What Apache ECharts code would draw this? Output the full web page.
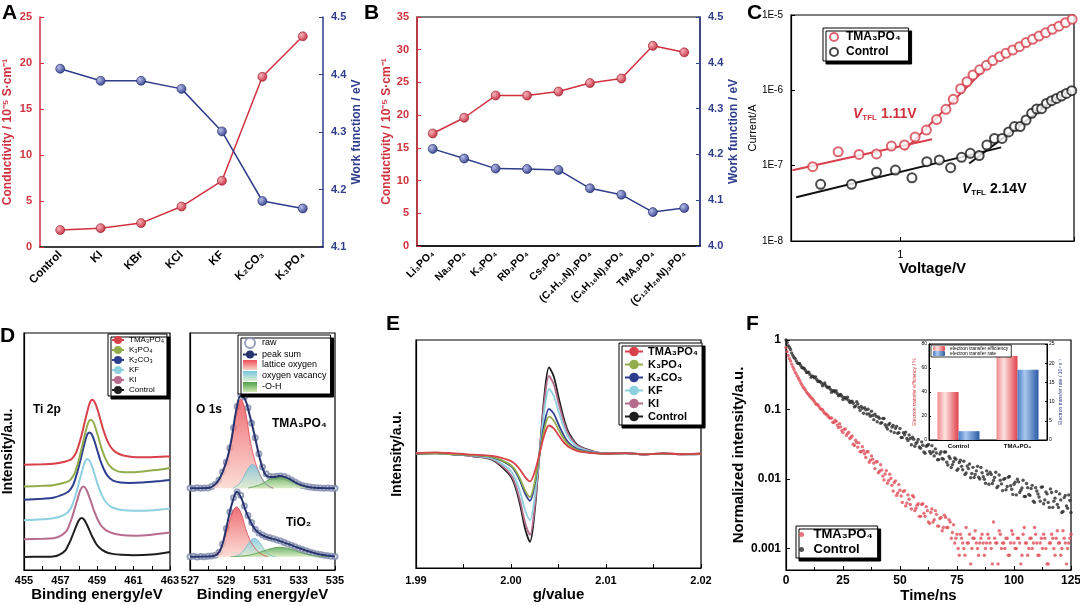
<!DOCTYPE html>
<html lang="en">
<head>
    <meta charset="UTF-8">
    <title>TiO2 additive figure</title>
    <style>
        body { margin: 0; padding: 0; background: #fff; }
        #main { width: 1080px; height: 605px; }
    </style>
</head>
<body>
<div id="main"></div>
<script src="https://cdn.jsdelivr.net/npm/echarts@6/dist/echarts.min.js"></script>
<script>
    // ---- A: conductivity / work function vs potassium salt
    var saltsA = ['Control', 'KI', 'KBr', 'KCl', 'KF', 'K2CO3', 'K3PO4'];
    var condA = [1.85, 2.05, 2.6, 4.4, 7.2, 18.5, 22.9];
    var wfA = [4.41, 4.389, 4.389, 4.375, 4.301, 4.18, 4.167];

    // ---- B: phosphate salts
    var saltsB = ['Li3PO4', 'Na3PO4', 'K3PO4', 'Rb3PO4', 'Cs3PO4', '(C4H12N)3PO4', '(C6H16N)3PO4', 'TMA3PO4', '(C12H28N)3PO4'];
    var condB = [17.2, 19.6, 23.0, 23.0, 23.6, 24.9, 25.6, 30.6, 29.6];
    var wfB = [4.212, 4.191, 4.169, 4.168, 4.166, 4.126, 4.112, 4.074, 4.083];

    // ---- C: SCLC, voltage (V) and current (A)
    var vTmaC = [0.436, 0.555, 0.676, 0.798, 0.919, 1.04, 1.15, 1.28, 1.41, 1.54, 1.65, 1.77, 1.88, 1.99, 2.12, 2.26, 2.40, 2.56, 2.72, 2.90, 3.09, 3.29, 3.50, 3.72, 3.96, 4.22, 4.49, 4.78, 5.09];
    var iTmaC = [9.7e-8, 1.53e-7, 1.41e-7, 1.43e-7, 1.82e-7, 1.88e-7, 2.4e-7, 2.97e-7, 4.1e-7, 5.6e-7, 7.6e-7, 1.05e-6, 1.3e-6, 1.6e-6, 1.87e-6, 2.15e-6, 2.48e-6, 2.8e-6, 3.1e-6, 3.43e-6, 3.8e-6, 4.3e-6, 4.75e-6, 5.26e-6, 5.8e-6, 6.45e-6, 7.1e-6, 7.9e-6, 8.75e-6];
    var vCtrlC = [0.47, 0.63, 0.798, 0.954, 1.116, 1.285, 1.447, 1.61, 1.785, 1.94, 2.11, 2.27, 2.44, 2.62, 2.79, 2.95, 3.11, 3.29, 3.47, 3.64, 3.81, 3.99, 4.19, 4.39, 4.6, 4.82, 5.07];
    var iCtrlC = [5.65e-8, 5.65e-8, 8.2e-8, 8.75e-8, 6.9e-8, 1.13e-7, 1.19e-7, 9.4e-8, 1.29e-7, 1.46e-7, 1.36e-7, 1.88e-7, 2.3e-7, 2.3e-7, 2.8e-7, 3.3e-7, 3.3e-7, 4.04e-7, 4.95e-7, 5.65e-7, 5.7e-7, 6.7e-7, 7.3e-7, 7.8e-7, 8.4e-7, 9.1e-7, 9.9e-7];
    var fitTmaLow = [[0.36, 8.7e-8], [1.35, 2.24e-7]];
    var fitTmaHigh = [[1.04, 1.61e-7], [2.29, 2.1e-6]];
    var fitCtrlLow = [[0.373, 3.8e-8], [2.6, 1.75e-7]];
    var fitCtrlHigh = [[1.92, 1.07e-7], [4.36, 7.8e-7]];

    // ---- D: XPS Ti 2p (binding energy eV, offset intensity a.u.)
    var tiCtrl = [[455, 5.5], [456, 5.6], [456.6, 5.7], [456.95, 6.5], [457.25, 8.1], [457.4, 10.1], [457.55, 12.5], [457.7, 15.4], [457.85, 18.3], [458.0, 20.9], [458.15, 21.9], [458.3, 21.2], [458.45, 19.1], [458.6, 16.5], [458.75, 13.9], [458.95, 11.1], [459.15, 9.3], [459.45, 7.7], [459.85, 6.8], [460.35, 6.4], [461, 6.2], [462, 6.5], [463, 7.6]];
    var tiKI = [[455, 13.0], [456, 13.2], [456.6, 13.4], [457.05, 14.6], [457.35, 16.7], [457.5, 19.4], [457.65, 22.6], [457.8, 26.5], [457.95, 30.4], [458.1, 33.9], [458.25, 35.2], [458.4, 34.2], [458.55, 31.4], [458.7, 28.1], [458.85, 24.7], [459.05, 21.1], [459.25, 18.5], [459.55, 16.5], [459.95, 15.3], [460.45, 14.7], [461, 14.5], [462, 14.9], [463, 15.8]];
    var tiKF = [[455, 21.0], [456, 21.4], [456.6, 21.8], [457.27, 23.6], [457.57, 26.1], [457.72, 29.1], [457.87, 32.7], [458.02, 37.1], [458.17, 41.4], [458.32, 45.3], [458.47, 46.8], [458.62, 45.7], [458.77, 42.8], [458.92, 39.1], [459.07, 35.4], [459.27, 31.5], [459.47, 28.8], [459.77, 26.6], [460.17, 25.5], [460.67, 25.1], [461.5, 25.0], [462.5, 25.5], [463, 26.0]];
    var tiK2CO3 = [[455, 29.6], [456, 30.1], [456.6, 30.5], [457.38, 32.8], [457.68, 35.7], [457.83, 38.9], [457.98, 42.9], [458.13, 47.6], [458.28, 52.3], [458.43, 56.5], [458.58, 58.0], [458.73, 57.0], [458.88, 53.9], [459.03, 50.1], [459.18, 46.3], [459.38, 42.4], [459.58, 39.7], [459.88, 37.7], [460.28, 36.9], [460.78, 36.7], [461.5, 36.9], [462.5, 37.6], [463, 38.0]];
    var tiK3PO4 = [[455, 35.2], [456, 35.5], [456.6, 35.8], [457.45, 37.5], [457.75, 40.4], [457.9, 43.7], [458.05, 47.8], [458.2, 52.7], [458.35, 57.6], [458.5, 61.8], [458.65, 63.4], [458.8, 62.4], [458.95, 59.2], [459.1, 55.3], [459.25, 51.3], [459.45, 47.2], [459.65, 44.4], [459.95, 42.3], [460.35, 41.3], [460.85, 41.2], [461.5, 41.6], [462.5, 42.4], [463, 43.0]];
    var tiTMA = [[455, 44.4], [456, 44.6], [456.6, 44.8], [457.54, 46.5], [457.84, 49.3], [457.99, 52.5], [458.14, 56.4], [458.29, 61.2], [458.44, 65.9], [458.59, 70.2], [458.74, 71.8], [458.89, 70.6], [459.04, 67.4], [459.19, 63.3], [459.34, 59.3], [459.54, 55.0], [459.74, 52.0], [460.04, 49.6], [460.44, 48.3], [460.94, 47.7], [461.5, 47.6], [462.5, 47.8], [463, 47.9]];

    // ---- D: XPS O 1s, TMA3PO4 (upper) and TiO2 (lower) with fitted components
    var o1sE = [527.0, 527.2, 527.4, 527.6, 527.8, 528.0, 528.2, 528.4, 528.6, 528.8, 529.0, 529.2, 529.4, 529.6, 529.8, 530.0, 530.2, 530.4, 530.6, 530.8, 531.0, 531.2, 531.4, 531.6, 531.8, 532.0, 532.2, 532.4, 532.6, 532.8, 533.0, 533.2, 533.4, 533.6, 533.8, 534.0, 534.2, 534.4, 534.6, 534.8, 535.0];
    var upRaw = [34.6, 34.4, 34.7, 34.5, 34.6, 34.6, 35.2, 36.2, 38.0, 41.3, 45.5, 51.5, 60.0, 69.0, 73.8, 73.0, 68.5, 62.0, 55.8, 49.0, 43.5, 40.6, 39.5, 39.3, 39.6, 39.7, 39.4, 38.8, 38.0, 37.1, 36.3, 35.7, 35.3, 35.0, 34.8, 34.7, 34.6, 34.5, 34.6, 34.5, 34.5];
    var loRaw = [5.6, 5.8, 5.5, 5.7, 5.6, 5.8, 5.9, 6.2, 7.5, 11.0, 17.5, 24.5, 30.5, 33.0, 31.5, 27.0, 23.0, 20.0, 17.2, 15.6, 14.8, 14.0, 13.6, 13.2, 12.7, 12.2, 11.6, 11.0, 10.4, 9.8, 9.2, 8.7, 8.1, 7.6, 7.2, 6.8, 6.5, 6.2, 6.0, 5.8, 5.7];
    var upSum = [[527, 34.5], [528.0, 34.6], [528.3, 35.6], [528.55, 37.5], [528.8, 41.3], [529.05, 46.9], [529.3, 55.6], [529.55, 67.3], [529.8, 73.5], [530.05, 71.8], [530.3, 65.1], [530.55, 57.3], [530.8, 48.7], [531.05, 42.0], [531.3, 39.4], [531.6, 39.2], [531.95, 39.7], [532.3, 39.1], [532.65, 37.7], [533.0, 36.2], [533.35, 35.3], [533.7, 34.8], [534.1, 34.6], [535, 34.5]];
    var loSum = [[527, 5.6], [528.2, 5.8], [528.5, 6.5], [528.75, 9.8], [529.02, 18.3], [529.3, 27.5], [529.6, 33.0], [529.85, 30.0], [530.05, 25.5], [530.3, 21.1], [530.6, 17.0], [530.95, 14.8], [531.35, 13.6], [531.78, 12.7], [532.4, 11.0], [533.07, 9.1], [533.7, 7.5], [534.35, 6.3], [535, 5.7]];
    var upLat = [[528.0, 34.5], [528.3, 35.6], [528.55, 37.5], [528.8, 41.3], [529.05, 46.9], [529.3, 55.5], [529.55, 67.1], [529.8, 72.0], [530.05, 67.1], [530.3, 55.5], [530.55, 46.9], [530.8, 41.3], [531.05, 37.5], [531.3, 35.6], [531.6, 34.5]];
    var upVac = [[529.35, 34.5], [529.45, 34.9], [529.7, 36.2], [529.95, 39.1], [530.2, 42.7], [530.45, 44.5], [530.7, 42.7], [530.95, 39.1], [531.2, 36.2], [531.45, 34.9], [531.55, 34.5]];
    var upOH = [[530.2, 34.6], [530.55, 35.2], [530.9, 36.1], [531.25, 37.6], [531.6, 39.0], [531.95, 39.6], [532.3, 39.0], [532.65, 37.6], [533.0, 36.1], [533.35, 35.2], [533.7, 34.7], [534.05, 34.6]];
    var loLat = [[527.9, 5.6], [528.07, 5.7], [528.32, 6.2], [528.57, 7.7], [528.82, 11.5], [529.07, 17.4], [529.32, 23.9], [529.57, 26.6], [529.82, 23.9], [530.07, 17.4], [530.32, 12.5], [530.57, 9.4], [530.82, 7.3], [531.07, 6.2], [531.3, 5.6]];
    var loVac = [[529.5, 5.6], [529.55, 5.9], [529.8, 6.9], [530.05, 9.2], [530.3, 12.0], [530.55, 13.4], [530.8, 12.0], [531.05, 9.2], [531.3, 6.9], [531.55, 5.9], [531.7, 5.6]];
    var loOH = [[529.25, 5.65], [529.7, 5.8], [530.15, 6.1], [530.6, 6.9], [531.05, 8.0], [531.5, 9.1], [531.95, 9.6], [532.4, 9.1], [532.85, 8.0], [533.3, 6.9], [533.75, 6.1], [534.2, 5.8], [534.65, 5.65]];
    var upBase = 34.5, loBase = 5.6;

    // ---- E: EPR, g value and derivative intensity
    var gE = [1.990, 1.992, 1.994, 1.995, 1.996, 1.997, 1.998, 1.999, 2.000, 2.0005, 2.001, 2.0015, 2.002, 2.0025, 2.003, 2.0035, 2.004, 2.0045, 2.005, 2.0055, 2.006, 2.0065, 2.007, 2.008, 2.009, 2.010, 2.012, 2.014, 2.016, 2.018, 2.020];
    var epCtrl = [0, 0.8, -0.5, -1, -2, -3, -5, -11, -20, -30, -46, -66, -77, -50, 0, 50, 76, 68, 50, 33, 20, 13, 8, 4, 1.5, 0.5, 1, -0.5, 0.6, -0.3, 0];
    var epKI = [0.5, 1, -0.3, -1, -1.8, -2.8, -4.6, -10, -18.4, -27.6, -42.3, -60.7, -71, -46, 0, 45, 68.4, 61, 45, 29.7, 18, 11.7, 7.2, 3.6, 1.4, 0.4, 0.8, -0.4, 0.5, 0, 0.3];
    var epKF = [0.3, 0.6, -0.4, -0.8, -1.5, -2.3, -3.8, -8.3, -15, -22.5, -34.5, -49.5, -58, -37.5, 0, 37.5, 57, 51, 37.5, 24.8, 15, 9.8, 6, 3, 1.1, 0.4, 0.7, -0.2, 0.4, -0.2, 0];
    var epK2CO3 = [0.2, 0.5, -0.2, -0.5, -1.1, -1.6, -2.7, -5.8, -10.6, -16, -24.4, -35, -41, -26.5, 0, 26, 39.5, 35.4, 26, 17.2, 10.4, 6.8, 4.2, 2.1, 0.8, 0.3, 0.5, -0.2, 0.3, 0, 0.2];
    var epK3PO4 = [0.4, 0.6, -0.3, -0.5, -1, -1.5, -2.5, -5.4, -9.8, -14.7, -22.5, -32.3, -37.7, -24.5, 0, 21.5, 32.7, 29.2, 21.5, 14.2, 8.6, 5.6, 3.4, 1.7, 0.6, 0.3, 0.6, -0.2, 0.3, -0.1, 0.2];
    var epTMA = [0.8, 1.5, 0.5, 0, -0.6, -0.9, -1.6, -3.4, -6.2, -9.3, -14.3, -20.5, -24, -15.5, 0, 16.5, 25, 22.4, 16.5, 10.9, 6.6, 4.3, 2.6, 1.3, 0.5, 0.2, 0.8, -0.3, 0.6, -0.2, 0.3];

    // ---- F: TRPL decay, read every 0.5 ns (whole-ns and half-ns samples)
    var F_STEP = 1;
    var plCtrl = [1.0, 0.83, 0.73, 0.6, 0.54, 0.465, 0.46, 0.40, 0.39, 0.34, 0.345, 0.29, 0.30, 0.295, 0.253, 0.251, 0.219, 0.241, 0.21, 0.21, 0.177, 0.186, 0.186, 0.158, 0.165, 0.139, 0.148, 0.15, 0.126, 0.132,
        0.109, 0.129, 0.107, 0.111, 0.0885, 0.099, 0.101, 0.080, 0.082, 0.0858, 0.0665, 0.0745, 0.0648, 0.0743, 0.0563, 0.0603, 0.0489, 0.0587, 0.0534, 0.0454, 0.0533, 0.0394, 0.0432, 0.0384, 0.043, 0.0311, 0.0373, 0.0324, 0.0371, 0.0277,
        0.0306, 0.0235, 0.0304, 0.0249, 0.0302, 0.0215, 0.0237, 0.019, 0.0247, 0.0193, 0.0245, 0.0159, 0.0197, 0.0161, 0.02, 0.0133, 0.0173, 0.0152, 0.018, 0.0122, 0.0141, 0.0104, 0.0147, 0.0116, 0.0152, 0.01, 0.0123, 0.0099, 0.0131, 0.0084,
        0.0116, 0.0095, 0.0125, 0.0079, 0.0096, 0.0068, 0.0102, 0.0078, 0.0109, 0.0071, 0.0084, 0.0059, 0.0091, 0.0069, 0.0096, 0.0056, 0.0075, 0.0058, 0.0081, 0.0046, 0.0067, 0.0055, 0.0076, 0.0044, 0.0065, 0.0046, 0.0072, 0.0039, 0.0053, 0.0043,
        0.0061, 0.0033, 0.0054, 0.0041, 0.0059, 0.0033];
    var plCtrlHalf = [0.92, 0.78, 0.65, 0.56, 0.5, 0.46, 0.425, 0.395, 0.367, 0.342, 0.32, 0.302, 0.285, 0.27, 0.255, 0.24, 0.23, 0.22, 0.207, 0.195, 0.186, 0.178, 0.17, 0.162, 0.155, 0.148, 0.141, 0.135, 0.129, 0.123,
        0.112, 0.12, 0.097, 0.104, 0.106, 0.0862, 0.0861, 0.0943, 0.0714, 0.08, 0.078, 0.0634, 0.0744, 0.0604, 0.0525, 0.0631, 0.0561, 0.0465, 0.0572, 0.0464, 0.0395, 0.0463, 0.0473, 0.0358, 0.0383, 0.04, 0.0296, 0.034, 0.0289, 0.0342,
        0.0244, 0.0296, 0.0313, 0.0233, 0.0246, 0.0271, 0.0189, 0.0229, 0.0197, 0.0244, 0.0174, 0.0211, 0.0146, 0.0177, 0.0192, 0.014, 0.0186, 0.0136, 0.0116, 0.0154, 0.0164, 0.012, 0.0105, 0.0131, 0.0106, 0.0146, 0.0108, 0.0087, 0.0117, 0.0125,
        0.0086, 0.0105, 0.0075, 0.0114, 0.0085, 0.0099, 0.007, 0.0106, 0.008, 0.006, 0.009, 0.0099, 0.0064, 0.0074, 0.0056, 0.0086, 0.006, 0.0073, 0.0048, 0.0075, 0.0061, 0.0048, 0.0077, 0.005, 0.0061, 0.0039, 0.0064, 0.0048, 0.0066, 0.0039,
        0.005, 0.0034, 0.0058, 0.0038, 0.0049];
    var plTMA = [0.78, 0.6, 0.5, 0.41, 0.345, 0.30, 0.262, 0.225, 0.2, 0.178, 0.163, 0.148, 0.137, 0.121, 0.116, 0.103, 0.099, 0.088, 0.084, 0.076,
        0.0754, 0.065, 0.0675, 0.055, 0.0563, 0.0465, 0.0526, 0.045, 0.0383, 0.0415, 0.0303, 0.0335, 0.0331, 0.0246, 0.0256, 0.0204, 0.0246, 0.0186, 0.0193, 0.0141,
        0.0177, 0.0129, 0.0135, 0.0097, 0.0132, 0.0095, 0.0102, 0.0067, 0.0094, 0.0063, 0.0069, 0.0046, 0.0068, 0.0045, 0.0051, 0.0037, 0.0055, 0.0038, 0.0044, 0.0029,
        0.0044, 0.0029, 0.0035, 0.0023, 0.0037, 0.0026, 0.0031, 0.0021, 0.0028, 0.002, 0.0028, 0.002, 0.0024, 0.0017,
        0.0012, 0.0016, 0.0008, 0.0014, 0.001, 0.002, 0.0012, 0.0006, 0.0014, 0.0018, 0.001, 0.0012, 0.0016, 0.0008, 0.0012, 0.0014, 0.001, 0.0024, 0.0012, 0.0006,
        0.0016, 0.0012, 0.001, 0.0014, 0.0008, 0.0018, 0.0012, 0.001, 0.0014, 0.0006, 0.0016, 0.0012, 0.0008, 0.0014, 0.001, 0.002, 0.0012, 0.0008, 0.0014, 0.0016,
        0.001, 0.0006, 0.0012, 0.0014, 0.0008, 0.0018, 0.0012, 0.001, 0.0014, 0.0006, 0.0012, 0.0016];
    var plTMAHalf = [0.68, 0.54, 0.45, 0.38, 0.325, 0.28, 0.24, 0.21, 0.19, 0.17, 0.155, 0.142, 0.129, 0.119, 0.11, 0.101, 0.093, 0.086, 0.08, 0.075,
        0.0653, 0.0702, 0.0596, 0.0625, 0.0495, 0.0518, 0.0424, 0.0472, 0.0399, 0.0316, 0.0362, 0.0287, 0.0246, 0.0292, 0.0231, 0.0246, 0.0174, 0.0215, 0.0169, 0.0177,
        0.0123, 0.016, 0.011, 0.0118, 0.0087, 0.0117, 0.0081, 0.0089, 0.0058, 0.0083, 0.0057, 0.0066, 0.0041, 0.0059, 0.0043, 0.0058, 0.0035, 0.0042, 0.0029, 0.0043,
        0.0032, 0.004, 0.0024, 0.0033, 0.0024, 0.0035, 0.0021, 0.0027, 0.0018, 0.003, 0.002, 0.0026, 0.0014, 0.0022,
        0.0014, 0.001, 0.0016, 0.0012, 0.0008, 0.0012, 0.0016, 0.001, 0.0014, 0.0012, 0.0008, 0.0014, 0.0012, 0.001, 0.0016, 0.0012, 0.0006, 0.0014, 0.0012, 0.0018,
        0.001, 0.0012, 0.0014, 0.0008, 0.0012, 0.0016, 0.001, 0.0014, 0.0012, 0.0008, 0.002, 0.0012, 0.001, 0.0014, 0.0012, 0.0016, 0.0008, 0.0012, 0.001, 0.0014,
        0.0006, 0.0012, 0.0016, 0.001, 0.0014, 0.0012, 0.0008, 0.0018, 0.0012, 0.001, 0.0014];

    // ---- F inset: electron transfer
    var insetCats = ['Control', 'TMA3PO4'];
    var transferEff = [40, 70];
    var transferRate = [2.3, 18.3];

    var RED = '#d1313e', BLUE = '#2f3d8c', FONT = 'Liberation Sans';
    var Z = '\u200b';
    var SUBS = '₀₁₂₃₄₅₆₇₈₉';

    function chem(s) {
        return s.replace(/\d/g, function (d) { return SUBS[+d]; });
    }
    // unique series names per panel, so each legend picks its own icon
    function nm(s, k) {
        return chem(s) + new Array(k + 1).join(Z);
    }
    function ball(light, dark) {
        return { type: 'radial', x: 0.35, y: 0.35, r: 0.75, colorStops: [{ offset: 0, color: light }, { offset: 1, color: dark }] };
    }
    function vgrad(top, bottom) {
        return { type: 'linear', x: 0, y: 0, x2: 0, y2: 1, colorStops: [{ offset: 0, color: top }, { offset: 1, color: bottom }] };
    }
    function hgrad(a, b, c) {
        return { type: 'linear', x: 0, y: 0, x2: 1, y2: 0, colorStops: [{ offset: 0, color: a }, { offset: 0.35, color: b }, { offset: 1, color: c }] };
    }
    function pairs(xs, ys) {
        return ys.map(function (y, i) { return [xs[i], y]; });
    }
    function timed(ys, t0) {
        return ys.map(function (v, i) { return [t0 + i * F_STEP, v]; });
    }

    var nameStyle = { color: '#000', fontFamily: FONT, fontWeight: 'bold', fontSize: 15 };
    var blackLine = { show: true, onZero: false, lineStyle: { color: '#000', width: 1.2 } };
    var inTick = { show: true, inside: true, length: 4, lineStyle: { color: '#000' } };
    var noSplit = { show: false };
    var boxLegend = { backgroundColor: '#fff', borderColor: '#000', borderWidth: 1, borderRadius: 0, shadowColor: '#000', shadowBlur: 0, shadowOffsetX: 3, shadowOffsetY: 3 };

    var dColors = { TMA: '#d8404a', K3PO4: '#93ad4c', K2CO3: '#2e3e8e', KF: '#8dd0e0', KI: '#b66c8c', Control: '#1e1e1e' };
    var latFill = vgrad('#ec4d55', '#fbd5cc');
    var vacFill = vgrad('#78c6e0', '#dcefcf');
    var ohFill = vgrad('#4e9f48', '#cfe8b6');

    var myChart = echarts.init(document.getElementById('main'));

    var option = {
        animation: false,
        textStyle: { fontFamily: FONT },
        grid: [
            { left: 40, top: 17, width: 283, height: 230, outerBoundsMode: 'none' },
            { left: 417, top: 17, width: 283, height: 229, show: true, borderColor: '#000', borderWidth: 1.2, outerBoundsMode: 'none' },
            { left: 791, top: 15, width: 283, height: 226, show: true, borderColor: '#000', borderWidth: 1.2, outerBoundsMode: 'none' },
            { left: 24, top: 333, width: 146, height: 237, show: true, borderColor: '#000', borderWidth: 1.2, outerBoundsMode: 'none' },
            { left: 190, top: 333, width: 145, height: 237, show: true, borderColor: '#000', borderWidth: 1.2, outerBoundsMode: 'none' },
            { left: 416, top: 340, width: 285, height: 228, show: true, borderColor: '#000', borderWidth: 1.2, outerBoundsMode: 'none' },
            { left: 786, top: 340, width: 285, height: 230, show: true, borderColor: '#000', borderWidth: 1.2, outerBoundsMode: 'none' },
            { left: 929, top: 344, width: 118, height: 96, show: true, borderColor: '#000', borderWidth: 1, backgroundColor: '#fff', outerBoundsMode: 'none' }
        ],
        xAxis: [
            {
                type: 'category', gridIndex: 0, data: saltsA.map(chem),
                axisLine: { lineStyle: { color: '#000', width: 1.5 } },
                axisTick: { alignWithLabel: true, inside: true, length: 4, lineStyle: { color: '#000' } },
                axisLabel: { rotate: 45, interval: 0, margin: 6, color: '#000', fontWeight: 'bold', fontSize: 11.5 }
            },
            {
                type: 'category', gridIndex: 1, data: saltsB.map(chem),
                axisLine: { lineStyle: { color: '#000', width: 1.5 } },
                axisTick: { alignWithLabel: true, inside: true, length: 4, lineStyle: { color: '#000' } },
                axisLabel: { rotate: 45, interval: 0, margin: 6, color: '#000', fontWeight: 'bold', fontSize: 10.5 }
            },
            {
                type: 'log', gridIndex: 2, logBase: 10, min: 0.355, max: 5.18,
                axisLine: blackLine, axisTick: inTick, splitLine: noSplit,
                axisLabel: { color: '#000', fontSize: 11, formatter: function (v) { return Math.abs(v - 1) < 1e-6 ? '1' : ''; } },
                name: 'Voltage/V', nameLocation: 'middle', nameGap: 19, nameTextStyle: nameStyle
            },
            {
                type: 'value', gridIndex: 3, min: 455, max: 463, interval: 1,
                axisLine: blackLine, axisTick: inTick, splitLine: noSplit,
                axisLabel: { color: '#000', fontWeight: 'bold', fontSize: 11, margin: 5, formatter: function (v) { return v % 2 === 1 ? String(v) : ''; } },
                name: 'Binding energy/eV', nameLocation: 'middle', nameGap: 16, nameTextStyle: nameStyle
            },
            {
                type: 'value', gridIndex: 4, min: 527, max: 535, interval: 1,
                axisLine: blackLine, axisTick: inTick, splitLine: noSplit,
                axisLabel: { color: '#000', fontWeight: 'bold', fontSize: 11, margin: 5, formatter: function (v) { return v % 2 === 1 ? String(v) : ''; } },
                name: 'Binding energy/eV', nameLocation: 'middle', nameGap: 16, nameTextStyle: nameStyle
            },
            {
                type: 'value', gridIndex: 5, min: 1990, max: 2020, interval: 5,
                axisLine: blackLine, axisTick: inTick, splitLine: noSplit,
                axisLabel: { color: '#000', fontWeight: 'bold', fontSize: 11, margin: 7, formatter: function (v) { return v % 10 === 0 ? (v / 1000).toFixed(2) : ''; } },
                name: 'g/value', nameLocation: 'middle', nameGap: 19, nameTextStyle: nameStyle
            },
            {
                type: 'value', gridIndex: 6, min: 0, max: 125, interval: 25,
                axisLine: blackLine, axisTick: inTick, splitLine: noSplit,
                minorTick: { show: true, splitNumber: 2, length: 3, lineStyle: { color: '#000' } },
                axisLabel: { color: '#000', fontWeight: 'bold', fontSize: 12, margin: 5 },
                name: 'Time/ns', nameLocation: 'middle', nameGap: 12, nameTextStyle: nameStyle
            },
            {
                type: 'category', gridIndex: 7, data: insetCats.map(chem),
                axisLine: { lineStyle: { color: '#000', width: 1 } },
                axisTick: { show: false },
                axisLabel: { color: '#000', fontWeight: 'bold', fontSize: 6, margin: 3 }
            }
        ],
        yAxis: [
            {
                type: 'value', gridIndex: 0, position: 'left', min: 0, max: 25, interval: 5,
                axisLine: { show: true, lineStyle: { color: RED, width: 1.5 } },
                axisTick: { show: true, inside: true, length: 4, lineStyle: { color: RED } },
                axisLabel: { color: RED, fontWeight: 'bold', fontSize: 11 }, splitLine: noSplit,
                name: 'Conductivity / 10⁻⁵ S·cm⁻¹', nameLocation: 'middle', nameRotate: 90, nameGap: 26,
                nameTextStyle: { color: RED, fontWeight: 'bold', fontSize: 12 }
            },
            {
                type: 'value', gridIndex: 0, position: 'right', min: 4.1, max: 4.5, interval: 0.1,
                axisLine: { show: true, lineStyle: { color: BLUE, width: 1.5 } },
                axisTick: { show: true, inside: true, length: 4, lineStyle: { color: BLUE } },
                axisLabel: { color: BLUE, fontWeight: 'bold', fontSize: 11, formatter: function (v) { return v.toFixed(1); } }, splitLine: noSplit,
                name: 'Work function / eV', nameLocation: 'middle', nameRotate: 90, nameGap: 21,
                nameTextStyle: { color: BLUE, fontWeight: 'bold', fontSize: 12 }
            },
            {
                type: 'value', gridIndex: 1, position: 'left', min: 0, max: 35, interval: 5,
                axisLine: { show: true, lineStyle: { color: RED, width: 1.5 } },
                axisTick: { show: true, inside: true, length: 4, lineStyle: { color: RED } },
                axisLabel: { color: RED, fontWeight: 'bold', fontSize: 11 }, splitLine: noSplit,
                name: 'Conductivity / 10⁻⁵ S·cm⁻¹', nameLocation: 'middle', nameRotate: 90, nameGap: 24,
                nameTextStyle: { color: RED, fontWeight: 'bold', fontSize: 12 }
            },
            {
                type: 'value', gridIndex: 1, position: 'right', min: 4.0, max: 4.5, interval: 0.1,
                axisLine: { show: true, lineStyle: { color: BLUE, width: 1.5 } },
                axisTick: { show: true, inside: true, length: 4, lineStyle: { color: BLUE } },
                axisLabel: { color: BLUE, fontWeight: 'bold', fontSize: 11, formatter: function (v) { return v.toFixed(1); } }, splitLine: noSplit,
                name: 'Work function / eV', nameLocation: 'middle', nameRotate: 90, nameGap: 23,
                nameTextStyle: { color: BLUE, fontWeight: 'bold', fontSize: 12 }
            },
            {
                type: 'log', gridIndex: 2, logBase: 10, min: 1e-8, max: 1e-5,
                axisLine: blackLine, axisTick: inTick, splitLine: noSplit,
                axisLabel: { color: '#000', fontSize: 10, formatter: function (v) { return '1E' + Math.round(Math.log10(v)); } },
                name: 'Current/A', nameLocation: 'middle', nameRotate: 90, nameGap: 30,
                nameTextStyle: { color: '#000', fontSize: 11 }
            },
            {
                type: 'value', gridIndex: 3, min: 0, max: 100,
                axisLine: blackLine, axisTick: { show: false }, axisLabel: { show: false }, splitLine: noSplit,
                name: 'Intensity/a.u.', nameLocation: 'middle', nameRotate: 90, nameGap: 9,
                nameTextStyle: { color: '#000', fontWeight: 'bold', fontSize: 14 }
            },
            {
                type: 'value', gridIndex: 4, min: 0, max: 100,
                axisLine: blackLine, axisTick: { show: false }, axisLabel: { show: false }, splitLine: noSplit
            },
            {
                type: 'value', gridIndex: 5, min: -100, max: 100,
                axisLine: blackLine, axisTick: { show: false }, axisLabel: { show: false }, splitLine: noSplit,
                name: 'Intensity/a.u.', nameLocation: 'middle', nameRotate: 90, nameGap: 12,
                nameTextStyle: { color: '#000', fontWeight: 'bold', fontSize: 14 }
            },
            {
                type: 'log', gridIndex: 6, logBase: 10, min: 0.00049, max: 1,
                axisLine: blackLine, axisTick: inTick, splitLine: noSplit,
                axisLabel: {
                    color: '#000', fontWeight: 'bold', fontSize: 12, margin: 5,
                    formatter: function (v) {
                        if (v < 0.0009) return '';
                        var e = Math.round(Math.log10(v));
                        return e === 0 ? '1' : Math.pow(10, e).toFixed(-e);
                    }
                },
                name: 'Normalized intensity/a.u.', nameLocation: 'middle', nameRotate: 90, nameGap: 40,
                nameTextStyle: nameStyle
            },
            {
                type: 'value', gridIndex: 7, position: 'left', min: 0, max: 80, interval: 20,
                axisLine: { show: true, lineStyle: { color: '#000', width: 1 } },
                axisTick: { show: true, inside: true, length: 2, lineStyle: { color: '#000' } },
                axisLabel: { color: '#000', fontSize: 5, margin: 2 }, splitLine: noSplit,
                name: 'Electron transfer efficiency / %', nameLocation: 'middle', nameRotate: 90, nameGap: 9,
                nameTextStyle: { color: RED, fontSize: 5 }
            },
            {
                type: 'value', gridIndex: 7, position: 'right', min: 0, max: 25, interval: 5,
                axisLine: { show: true, lineStyle: { color: '#000', width: 1 } },
                axisTick: { show: true, inside: true, length: 2, lineStyle: { color: '#000' } },
                axisLabel: { color: '#000', fontSize: 5, margin: 2 }, splitLine: noSplit,
                name: 'Electron transfer rate / 10⁸ s⁻¹', nameLocation: 'middle', nameRotate: 90, nameGap: 10,
                nameTextStyle: { color: BLUE, fontSize: 5 }
            }
        ],
        legend: [
            Object.assign({
                left: 823, top: 28, orient: 'vertical', itemGap: 3, itemWidth: 14, itemHeight: 8, padding: [3, 8, 3, 6],
                textStyle: { color: '#000', fontWeight: 'bold', fontSize: 12 },
                data: [nm('TMA3PO4', 1), nm('Control', 1)]
            }, boxLegend),
            Object.assign({
                left: 108, top: 334, orient: 'vertical', itemGap: 2, itemWidth: 12, itemHeight: 10, padding: [2, 3, 2, 3],
                textStyle: { color: '#000', fontSize: 8 },
                data: [nm('TMA3PO4', 2), nm('K3PO4', 2), nm('K2CO3', 2), nm('KF', 2), nm('KI', 2), nm('Control', 2)]
            }, boxLegend),
            Object.assign({
                left: 238, top: 335, orient: 'vertical', itemGap: 1, itemWidth: 14, itemHeight: 10, padding: [2, 4, 2, 4],
                textStyle: { color: '#000', fontSize: 9 },
                data: [
                    { name: 'raw', icon: 'emptyCircle' },
                    { name: 'peak sum' },
                    { name: 'lattice oxygen', icon: 'rect', itemStyle: { color: latFill } },
                    { name: 'oxygen vacancy', icon: 'rect', itemStyle: { color: vacFill } },
                    { name: '-O-H', icon: 'rect', itemStyle: { color: ohFill } }
                ]
            }, boxLegend),
            Object.assign({
                left: 619, top: 343, orient: 'vertical', itemGap: 2, itemWidth: 18, itemHeight: 12, padding: [3, 4, 3, 5],
                textStyle: { color: '#000', fontSize: 11, fontWeight: 'bold' },
                data: [nm('TMA3PO4', 3), nm('K3PO4', 3), nm('K2CO3', 3), nm('KF', 3), nm('KI', 3), nm('Control', 3)]
            }, boxLegend),
            Object.assign({
                left: 796, top: 526, orient: 'vertical', itemGap: 2, itemWidth: 14, itemHeight: 5, padding: [2, 5, 2, 3],
                textStyle: { color: '#000', fontSize: 13, fontWeight: 'bold' },
                data: [nm('TMA3PO4', 4), nm('Control', 4)]
            }, boxLegend),
            {
                left: 931, top: 345, orient: 'vertical', itemGap: 0, itemWidth: 12, itemHeight: 5, padding: [1, 3, 1, 2],
                backgroundColor: '#fff', borderColor: '#000', borderWidth: 0.8, borderRadius: 0,
                textStyle: { color: '#000', fontSize: 5 },
                data: ['electron transfer efficiency', 'electron transfer rate']
            }
        ],
        graphic: [
            { type: 'text', left: 2, top: 3, style: { text: 'A', fontSize: 21, fontWeight: 'bold', fill: '#000', fontFamily: FONT } },
            { type: 'text', left: 364, top: 3, style: { text: 'B', fontSize: 21, fontWeight: 'bold', fill: '#000', fontFamily: FONT } },
            { type: 'text', left: 747, top: 3, style: { text: 'C', fontSize: 21, fontWeight: 'bold', fill: '#000', fontFamily: FONT } },
            { type: 'text', left: 0, top: 326, style: { text: 'D', fontSize: 21, fontWeight: 'bold', fill: '#000', fontFamily: FONT } },
            { type: 'text', left: 386, top: 314, style: { text: 'E', fontSize: 21, fontWeight: 'bold', fill: '#000', fontFamily: FONT } },
            { type: 'text', left: 746, top: 314, style: { text: 'F', fontSize: 21, fontWeight: 'bold', fill: '#000', fontFamily: FONT } },
            { type: 'text', left: 33, top: 404, style: { text: 'Ti 2p', fontSize: 12, fontWeight: 'bold', fill: '#000', fontFamily: FONT } },
            { type: 'text', left: 196, top: 404, style: { text: 'O 1s', fontSize: 12, fontWeight: 'bold', fill: '#000', fontFamily: FONT } },
            { type: 'text', left: 272, top: 418, style: { text: chem('TMA3PO4'), fontSize: 12, fontWeight: 'bold', fill: '#000', fontFamily: FONT } },
            { type: 'text', left: 286, top: 517, style: { text: chem('TiO2'), fontSize: 12, fontWeight: 'bold', fill: '#000', fontFamily: FONT } },
            {
                type: 'text', left: 853, top: 107,
                style: {
                    text: '{v|V}{s|TFL}{n| 1.11V}', fill: RED,
                    rich: {
                        v: { fontSize: 14, fontWeight: 'bold', fontStyle: 'italic', fill: RED, fontFamily: FONT },
                        s: { fontSize: 8, fontWeight: 'bold', fill: RED, padding: [8, 0, 0, 0], fontFamily: FONT },
                        n: { fontSize: 14, fontWeight: 'bold', fill: RED, fontFamily: FONT }
                    }
                }
            },
            {
                type: 'text', left: 962, top: 182,
                style: {
                    text: '{v|V}{s|TFL}{n| 2.14V}', fill: '#000',
                    rich: {
                        v: { fontSize: 14, fontWeight: 'bold', fontStyle: 'italic', fill: '#000', fontFamily: FONT },
                        s: { fontSize: 8, fontWeight: 'bold', fill: '#000', padding: [8, 0, 0, 0], fontFamily: FONT },
                        n: { fontSize: 14, fontWeight: 'bold', fill: '#000', fontFamily: FONT }
                    }
                }
            }
        ],
        series: []
    };

    var S = option.series;

    // A
    S.push({ name: 'condA', type: 'line', xAxisIndex: 0, yAxisIndex: 0, data: condA, symbol: 'circle', symbolSize: 9,
        lineStyle: { color: RED, width: 1.5 }, itemStyle: { color: ball('#f7b3bb', '#c22435'), borderColor: '#8e1b27', borderWidth: 0.6 } });
    S.push({ name: 'wfA', type: 'line', xAxisIndex: 0, yAxisIndex: 1, data: wfA, symbol: 'circle', symbolSize: 9,
        lineStyle: { color: BLUE, width: 1.5 }, itemStyle: { color: ball('#b5bde8', '#2c3886'), borderColor: '#1d2660', borderWidth: 0.6 } });
    // B
    S.push({ name: 'condB', type: 'line', xAxisIndex: 1, yAxisIndex: 2, data: condB, symbol: 'circle', symbolSize: 9,
        lineStyle: { color: RED, width: 1.5 }, itemStyle: { color: ball('#f7b3bb', '#c22435'), borderColor: '#8e1b27', borderWidth: 0.6 } });
    S.push({ name: 'wfB', type: 'line', xAxisIndex: 1, yAxisIndex: 3, data: wfB, symbol: 'circle', symbolSize: 9,
        lineStyle: { color: BLUE, width: 1.5 }, itemStyle: { color: ball('#b5bde8', '#2c3886'), borderColor: '#1d2660', borderWidth: 0.6 } });

    // C
    S.push({ name: nm('TMA3PO4', 1), type: 'scatter', xAxisIndex: 2, yAxisIndex: 4, data: pairs(vTmaC, iTmaC),
        symbol: 'emptyCircle', symbolSize: 9, itemStyle: { color: '#d6404c', borderColor: '#d6404c', borderWidth: 1.2 } });
    S.push({ name: nm('Control', 1), type: 'scatter', xAxisIndex: 2, yAxisIndex: 4, data: pairs(vCtrlC, iCtrlC),
        symbol: 'emptyCircle', symbolSize: 9, itemStyle: { color: '#1a1a1a', borderColor: '#1a1a1a', borderWidth: 1.2 } });
    [[fitTmaLow, '#d6404c'], [fitTmaHigh, '#d6404c'], [fitCtrlLow, '#111'], [fitCtrlHigh, '#111']].forEach(function (f) {
        S.push({ type: 'line', xAxisIndex: 2, yAxisIndex: 4, data: f[0], showSymbol: false, symbol: 'none',
            lineStyle: { color: f[1], width: 2 }, z: 1 });
    });

    // D, Ti 2p (bottom curve drawn first)
    [['Control', tiCtrl], ['KI', tiKI], ['KF', tiKF], ['K2CO3', tiK2CO3], ['K3PO4', tiK3PO4], ['TMA', tiTMA]].forEach(function (c) {
        var label = c[0] === 'TMA' ? 'TMA3PO4' : c[0];
        S.push({ name: nm(label, 2), type: 'line', xAxisIndex: 3, yAxisIndex: 5, data: c[1], smooth: 0.3, symbol: 'none',
            lineStyle: { color: dColors[c[0]], width: 2 }, itemStyle: { color: dColors[c[0]] } });
    });

    // D, O 1s fitted components (lattice under vacancy under -O-H)
    var comps = [
        [upLat, loLat, 'lattice oxygen', '#d8404a', latFill],
        [upVac, loVac, 'oxygen vacancy', '#6fb4cc', vacFill],
        [upOH, loOH, '-O-H', '#4f9a48', ohFill]
    ];
    comps.forEach(function (c) {
        [[c[0], upBase], [c[1], loBase]].forEach(function (p) {
            S.push({ name: c[2], type: 'line', xAxisIndex: 4, yAxisIndex: 6, data: p[0], smooth: 0.4, symbol: 'none',
                lineStyle: { color: c[3], width: 0.8 }, itemStyle: { color: c[4] },
                areaStyle: { origin: p[1], color: c[4], opacity: 0.8 } });
        });
    });
    [upSum, loSum].forEach(function (d) {
        S.push({ name: 'peak sum', type: 'line', xAxisIndex: 4, yAxisIndex: 6, data: d, smooth: 0.4, symbol: 'none',
            lineStyle: { color: '#27336e', width: 2 }, itemStyle: { color: '#27336e' } });
    });
    [upRaw, loRaw].forEach(function (d) {
        S.push({ name: 'raw', type: 'scatter', xAxisIndex: 4, yAxisIndex: 6, data: pairs(o1sE, d), symbol: 'emptyCircle', symbolSize: 5,
            itemStyle: { color: '#7d89ab', borderColor: '#7d89ab', borderWidth: 1 } });
    });

    // E
    [['Control', epCtrl], ['KI', epKI], ['KF', epKF], ['K2CO3', epK2CO3], ['K3PO4', epK3PO4], ['TMA', epTMA]].forEach(function (c) {
        var label = c[0] === 'TMA' ? 'TMA3PO4' : c[0];
        S.push({ name: nm(label, 3), type: 'line', xAxisIndex: 5, yAxisIndex: 7,
            data: c[1].map(function (y, i) { return [gE[i] * 1000, y]; }), smooth: 0.3, symbol: 'none',
            lineStyle: { color: dColors[c[0]], width: 1.8 }, itemStyle: { color: dColors[c[0]] } });
    });

    // F
    S.push({ name: nm('Control', 4), type: 'scatter', xAxisIndex: 6, yAxisIndex: 8,
        data: timed(plCtrl, 0).concat(timed(plCtrlHalf, 0.5)), symbolSize: 3.4, itemStyle: { color: '#2a2a2a' } });
    S.push({ name: nm('TMA3PO4', 4), type: 'scatter', xAxisIndex: 6, yAxisIndex: 8,
        data: timed(plTMA, 0).concat(timed(plTMAHalf, 0.5)), symbolSize: 3.4, itemStyle: { color: '#e0505a' } });

    // F inset
    S.push({ name: 'electron transfer efficiency', type: 'bar', xAxisIndex: 7, yAxisIndex: 9, data: transferEff, barWidth: 21, barGap: '0%',
        itemStyle: { color: hgrad('#f08a8e', '#fde2e0', '#e0414b') } });
    S.push({ name: 'electron transfer rate', type: 'bar', xAxisIndex: 7, yAxisIndex: 10, data: transferRate, barWidth: 21, barGap: '0%',
        itemStyle: { color: hgrad('#4a7cc6', '#a9c8ee', '#2b5aa6') } });

    myChart.setOption(option);
</script>
</body>
</html>
